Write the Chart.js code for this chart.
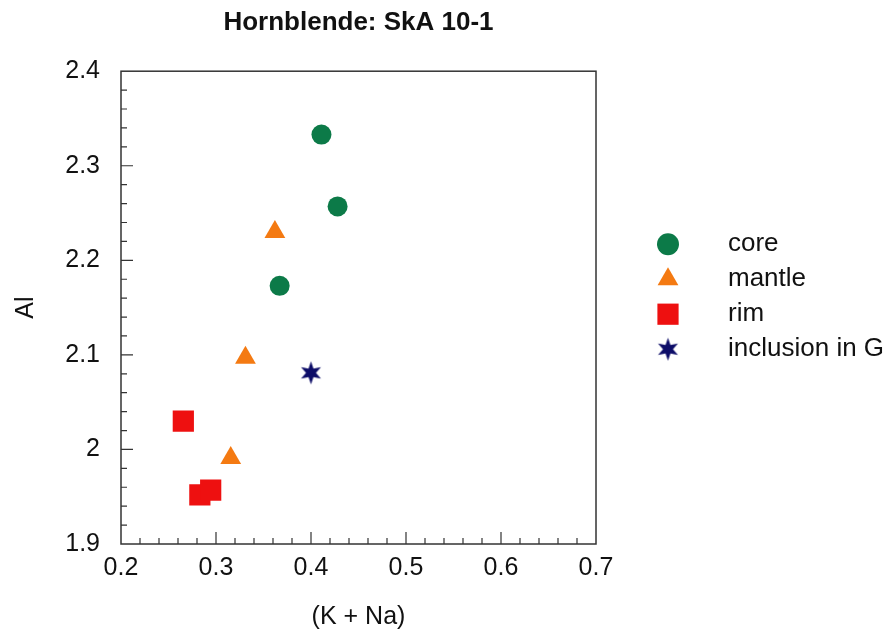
<!DOCTYPE html>
<html lang="en">
<head>
<meta charset="utf-8">
<title>Hornblende: SkA 10-1</title>
<script src="https://cdn.jsdelivr.net/npm/chart.js"></script>
<style>
html,body{margin:0;background:#fff}
#wrap{width:895px;height:632px}
</style>
</head>
<body>
<div id="wrap"><canvas id="c"></canvas></div>
<script>
/* ---------- data ---------- */
const coreX   = [0.411, 0.428, 0.367];
const coreY   = [2.333, 2.257, 2.173];
const mantleX = [0.362, 0.331, 0.3155];
const mantleY = [2.230, 2.097, 1.991];
const rimX    = [0.2656, 0.283, 0.2944];
const rimY    = [2.030, 1.952, 1.957];
const inclX   = [0.400];
const inclY   = [2.081];

const seriesNames = ['core', 'mantle', 'rim', 'inclusion in G'];

/* axis ranges */
const X_MIN = 0.2, X_MAX = 0.7, Y_MIN = 1.9, Y_MAX = 2.4;
const MAJOR = 0.1, MINOR = 0.02;

const FONT = '"Liberation Sans", Arial, sans-serif';
const TXT  = '#111';

/* six-pointed star marker */
function makeStar(R, r, color){
  const c = document.createElement('canvas');
  const s = Math.ceil(R*2 + 2);
  c.width = s; c.height = s;
  const g = c.getContext('2d');
  g.fillStyle = color;
  g.beginPath();
  for (let i = 0; i < 12; i++){
    const a = -Math.PI/2 + i*Math.PI/6;
    const rad = i % 2 ? r : R;
    const px = s/2 + Math.cos(a)*rad, py = s/2 + Math.sin(a)*rad;
    i ? g.lineTo(px, py) : g.moveTo(px, py);
  }
  g.closePath(); g.fill();
  return c;
}
const starPlot = makeStar(11.5, 5, '#0d0d68');
const starLeg  = makeStar(11.5, 5, '#0d0d68');

const pts = (xs, ys) => xs.map((x, i) => ({x, y: ys[i]}));
const fmt = v => String(+v.toFixed(1));

/* ---------- frame + inward ticks ---------- */
const frameTicks = {
  id: 'frameTicks',
  beforeDatasetsDraw(chart){
    const {ctx, chartArea: a, scales: {x, y}} = chart;
    ctx.save();
    ctx.strokeStyle = '#333';
    ctx.lineWidth = 1.5;
    ctx.strokeRect(a.left, a.top, a.right - a.left, a.bottom - a.top);
    ctx.lineWidth = 1.2;
    ctx.beginPath();
    const nx = Math.round((X_MAX - X_MIN)/MINOR);
    for (let i = 1; i < nx; i++){
      const px = x.getPixelForValue(X_MIN + i*MINOR);
      const len = i % 5 === 0 ? 12 : 6;
      ctx.moveTo(px, a.bottom); ctx.lineTo(px, a.bottom - len);
    }
    const ny = Math.round((Y_MAX - Y_MIN)/MINOR);
    for (let i = 1; i < ny; i++){
      const py = y.getPixelForValue(Y_MIN + i*MINOR);
      const len = i % 5 === 0 ? 12 : 6;
      ctx.moveTo(a.left, py); ctx.lineTo(a.left + len, py);
    }
    ctx.stroke();
    ctx.restore();
  }
};

/* ---------- legend on the right ---------- */
const legendRight = {
  id: 'legendRight',
  afterDraw(chart){
    const {ctx, chartArea: a} = chart;
    const mx = a.right + 72, tx = a.right + 132;
    const legStyles = [
      {pointStyle: 'circle', radius: 11},
      {pointStyle: 'triangle', radius: 12},
      {pointStyle: 'rect', radius: 15},
      {pointStyle: starLeg, radius: 10}
    ];
    ctx.save();
    chart.data.datasets.forEach((ds, i) => {
      const y = a.top + 173 + i*35;
      ctx.fillStyle = ds.backgroundColor;
      Chart.helpers.drawPoint(ctx, {...legStyles[i], rotation: 0, borderWidth: 0}, mx, y);
      ctx.fillStyle = TXT;
      ctx.font = '26px ' + FONT;
      ctx.textAlign = 'left';
      ctx.textBaseline = 'middle';
      ctx.fillText(ds.label, tx, y);
    });
    ctx.restore();
  }
};

new Chart(document.getElementById('c'), {
  type: 'scatter',
  data: {
    datasets: [
      {label: seriesNames[0], data: pts(coreX, coreY), pointStyle: 'circle',
       pointRadius: 10, backgroundColor: '#0c7a48', borderWidth: 0},
      {label: seriesNames[1], data: pts(mantleX, mantleY), pointStyle: 'triangle',
       pointRadius: 12, backgroundColor: '#f47a12', borderWidth: 0},
      {label: seriesNames[2], data: pts(rimX, rimY), pointStyle: 'rect',
       pointRadius: 15, backgroundColor: '#ee1010', borderWidth: 0},
      {label: seriesNames[3], data: pts(inclX, inclY), pointStyle: starPlot,
       pointRadius: 10, backgroundColor: '#0d0d68', borderWidth: 0}
    ]
  },
  options: {
    animation: false,
    responsive: true,
    maintainAspectRatio: false,
    layout: {padding: {left: 0, right: 299, top: 0, bottom: 0}},
    plugins: {
      legend: {display: false},
      tooltip: {enabled: false},
      title: {
        display: true, fullSize: false,
        text: 'Hornblende: SkA 10-1',
        color: TXT,
        font: {family: FONT, size: 26, weight: 'bold', lineHeight: 1.2},
        padding: {top: 7, bottom: 33}
      }
    },
    scales: {
      x: {
        type: 'linear', min: X_MIN, max: X_MAX,
        grid: {display: false, drawTicks: false},
        border: {display: false},
        ticks: {stepSize: MAJOR, color: TXT, padding: 9, callback: fmt,
                font: {family: FONT, size: 25}},
        title: {display: true, text: '(K + Na)', color: TXT,
                font: {family: FONT, size: 25, lineHeight: 1.2},
                padding: {top: 0, bottom: 0}},
        afterFit: s => { s.height = 88; }
      },
      y: {
        type: 'linear', min: Y_MIN, max: Y_MAX,
        grid: {display: false, drawTicks: false},
        border: {display: false},
        ticks: {stepSize: MAJOR, color: TXT, padding: 21, callback: fmt,
                font: {family: FONT, size: 25}},
        title: {display: true, text: 'Al', color: TXT,
                font: {family: FONT, size: 25, lineHeight: 1.2},
                padding: {top: 11, bottom: 0}},
        afterFit: s => { s.width = 121; }
      }
    }
  },
  plugins: [frameTicks, legendRight]
});
</script>
</body>
</html>
